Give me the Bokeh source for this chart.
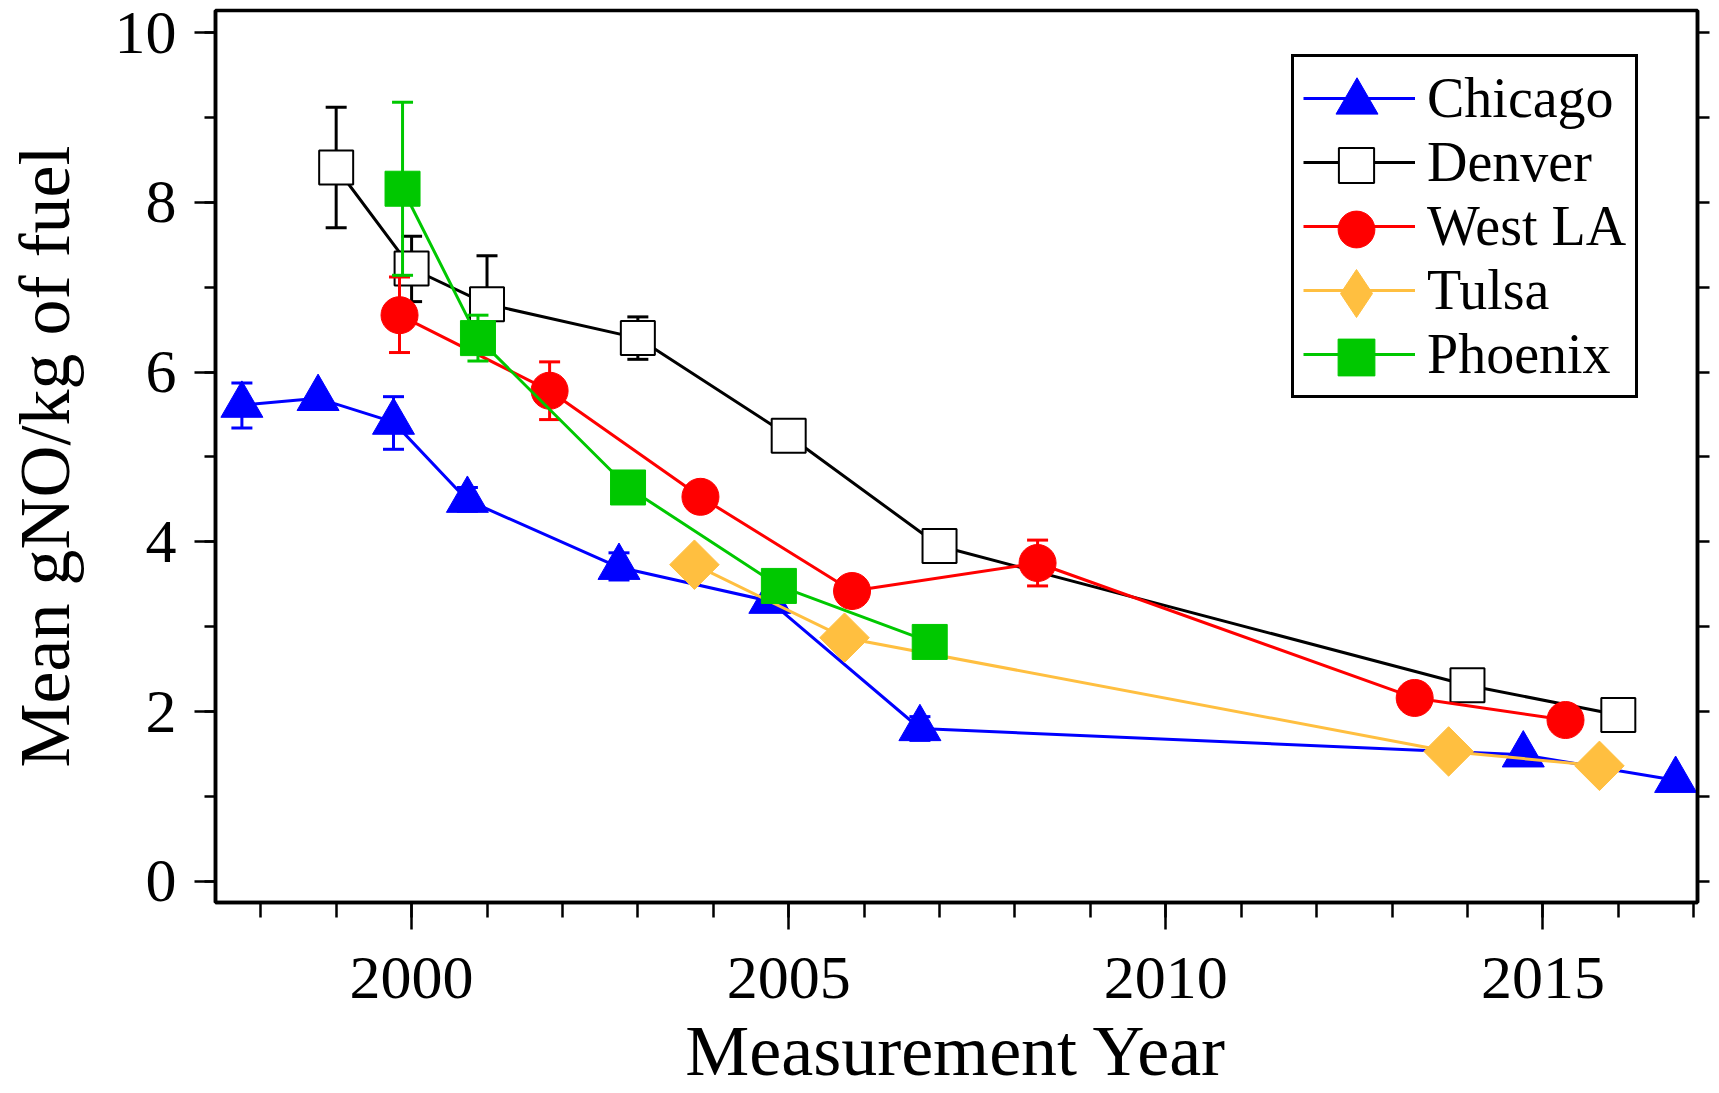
import math
from bokeh.plotting import figure
from bokeh.models import (ColumnDataSource, Legend, LegendItem, LinearAxis,
                          SingleIntervalTicker, Range1d)
from bokeh.embed import file_html
from bokeh.resources import INLINE

# ---------------- data ----------------
series_names = ["Chicago", "Denver", "West LA", "Tulsa", "Phoenix"]

chicago_year = [1997.75, 1998.76, 1999.76, 2000.74, 2002.75, 2004.75, 2006.74, 2014.74, 2016.76]
chicago_val = [5.61, 5.69, 5.41, 4.49, 3.70, 3.30, 1.80, 1.49, 1.19]
chicago_lo = [5.34, None, 5.09, 4.36, 3.55, None, 1.66, None, None]
chicago_hi = [5.87, None, 5.71, 4.64, 3.87, None, 1.94, None, None]

denver_year = [1999.0, 2000.0, 2001.0, 2003.0, 2005.0, 2007.0, 2014.0, 2016.0]
denver_val = [8.41, 7.22, 6.80, 6.40, 5.25, 3.95, 2.31, 1.96]
denver_lo = [7.70, 6.83, 6.70, 6.15, None, None, None, None]
denver_hi = [9.12, 7.60, 7.37, 6.65, None, None, None, None]

westla_year = [1999.84, 2001.83, 2003.83, 2005.84, 2008.30, 2013.30, 2015.30]
westla_val = [6.67, 5.78, 4.53, 3.42, 3.75, 2.16, 1.90]
westla_lo = [6.23, 5.44, None, None, 3.48, None, None]
westla_hi = [7.12, 6.12, None, None, 4.02, None, None]

tulsa_year = [2003.75, 2005.74, 2013.75, 2015.75]
tulsa_val = [3.73, 2.87, 1.53, 1.36]
tulsa_lo = [None, None, None, None]
tulsa_hi = [None, None, None, None]

phoenix_year = [1999.88, 2000.88, 2002.87, 2004.87, 2006.87]
phoenix_val = [8.16, 6.40, 4.64, 3.48, 2.82]
phoenix_lo = [7.14, 6.13, 4.56, None, None]
phoenix_hi = [9.18, 6.67, 4.72, None, None]

x_ticks_interval = 5
y_ticks_interval = 2
x_title = "Measurement Year"
y_title = "Mean gNO/kg of fuel"

FONT = "Liberation Serif"

p = figure(width=1719, height=1093, x_range=Range1d(1997.4, 2017.05),
           y_range=Range1d(-0.25, 10.26), output_backend="svg",
           toolbar_location=None, title=None,
           min_border_left=215, min_border_right=22, min_border_top=10,
           min_border_bottom=191)
p.grid.visible = False
p.background_fill_color = "white"
p.border_fill_color = "white"
p.outline_line_color = "black"
p.outline_line_width = 3.5
p.outline_line_alpha = 1.0

xa = p.xaxis[0]
xa.ticker = SingleIntervalTicker(interval=x_ticks_interval, num_minor_ticks=5)
xa.axis_label = x_title
ya = p.yaxis[0]
ya.ticker = SingleIntervalTicker(interval=y_ticks_interval, num_minor_ticks=2)
ya.axis_label = y_title

for ax, mo, mi in ((xa, 27, 15), (ya, 21, 11)):
    ax.axis_line_width = 3.5
    ax.axis_line_color = "black"
    ax.major_tick_in = 0
    ax.minor_tick_in = 0
    ax.major_tick_out = mo
    ax.minor_tick_out = mi
    ax.major_tick_line_width = 2.5
    ax.minor_tick_line_width = 2.5
    ax.major_tick_line_color = "black"
    ax.minor_tick_line_color = "black"
    ax.major_label_text_font = FONT
    ax.major_label_text_font_size = "62px"
    ax.major_label_text_color = "black"
    ax.axis_label_text_font = FONT
    ax.axis_label_text_font_size = "72px"
    ax.axis_label_text_font_style = "normal"
    ax.axis_label_text_color = "black"
xa.major_label_standoff = 28
xa.axis_label_standoff = 10
ya.major_label_standoff = 18
ya.axis_label_standoff = 27

ra = LinearAxis(ticker=SingleIntervalTicker(interval=1, num_minor_ticks=0))
ra.axis_line_width = 3.5
ra.major_tick_in = 0
ra.major_tick_out = 12
ra.minor_tick_out = 0
ra.major_tick_line_width = 2.5
ra.major_label_text_font_size = "1px"
ra.major_label_text_color = None
ra.major_label_standoff = 0
p.add_layout(ra, "right")

styles = [
    dict(color="#0000FF", marker="triangle", size=42, fill="#0000FF", angle=0.0, mlw=1),
    dict(color="#000000", marker="square", size=34, fill="#FFFFFF", angle=0.0, mlw=2),
    dict(color="#FF0000", marker="circle", size=37, fill="#FF0000", angle=0.0, mlw=1),
    dict(color="#FFBF40", marker="square", size=35, fill="#FFBF40", angle=math.pi / 4, mlw=1),
    dict(color="#00C800", marker="square", size=35, fill="#00C800", angle=0.0, mlw=1),
]
data = [
    (chicago_year, chicago_val, chicago_lo, chicago_hi),
    (denver_year, denver_val, denver_lo, denver_hi),
    (westla_year, westla_val, westla_lo, westla_hi),
    (tulsa_year, tulsa_val, tulsa_lo, tulsa_hi),
    (phoenix_year, phoenix_val, phoenix_lo, phoenix_hi),
]

line_items = []
marker_renderers = []
for name, (xs, ys, lo, hi), st in zip(series_names, data, styles):
    src = ColumnDataSource(dict(x=xs, y=ys))
    lr = p.line("x", "y", source=src, line_color=st["color"], line_width=3)
    ex = [x for x, l in zip(xs, lo) if l is not None]
    el = [l for l in lo if l is not None]
    eh = [h for h in hi if h is not None]
    if ex:
        esrc = ColumnDataSource(dict(x=ex, lo=el, hi=eh))
        p.segment(x0="x", y0="lo", x1="x", y1="hi", source=esrc,
                  line_color=st["color"], line_width=3)
        p.scatter("x", "lo", source=esrc, marker="dash", size=21,
                  line_color=st["color"], line_width=3)
        p.scatter("x", "hi", source=esrc, marker="dash", size=21,
                  line_color=st["color"], line_width=3)
    sr = p.scatter("x", "y", source=src, marker=st["marker"], size=st["size"],
                   angle=st["angle"], fill_color=st["fill"],
                   line_color=st["color"], line_width=st["mlw"])
    if st["angle"] != 0.0:
        # legend-only proxy (rotated markers are not rotated inside legends)
        sr = p.scatter("x", "y", source=src, marker="diamond", size=st["size"],
                       fill_color=st["fill"], line_color=st["color"],
                       line_width=st["mlw"], visible=False)
    line_items.append(LegendItem(label=name, renderers=[lr]))
    marker_renderers.append(sr)

# main legend: box, lines and labels
frame_left, frame_bottom = 215, 902
box_left, box_bottom, pad, gw = 1291, 398, 9, 112
legend = Legend(items=line_items, location=(box_left - frame_left, frame_bottom - box_bottom))
legend.glyph_width = gw
legend.glyph_height = 64
legend.spacing = 0
legend.padding = pad
legend.margin = 0
legend.label_standoff = 12
legend.label_text_font = FONT
legend.label_text_font_size = "56px"
legend.label_text_color = "black"
legend.border_line_color = "black"
legend.border_line_alpha = 1.0
legend.border_line_width = 3
legend.background_fill_color = "white"
legend.background_fill_alpha = 1.0
p.add_layout(legend, "center")

# marker overlays in the legend (larger markers than Legend's default sizing)
cx = box_left + pad + gw / 2
box_top = box_bottom - (5 * 64 + 2 * pad)
marker_box = [105, 88, 92, 120, 92]
for i, (r, hb) in enumerate(zip(marker_renderers, marker_box)):
    cy = box_top + pad + 32 + 64 * i
    lg = Legend(items=[LegendItem(label=" ", renderers=[r])],
                location=(cx - hb / 2 - frame_left, frame_bottom - (cy + hb / 2)))
    lg.glyph_width = hb
    lg.glyph_height = hb
    lg.padding = 0
    lg.margin = 0
    lg.spacing = 0
    lg.label_standoff = 0
    lg.label_text_font_size = "1px"
    lg.label_text_color = None
    lg.border_line_color = None
    lg.background_fill_alpha = 0
    lg.inactive_fill_alpha = 0
    p.add_layout(lg, "center")

open("out.html", "w").write(file_html(p, INLINE))
